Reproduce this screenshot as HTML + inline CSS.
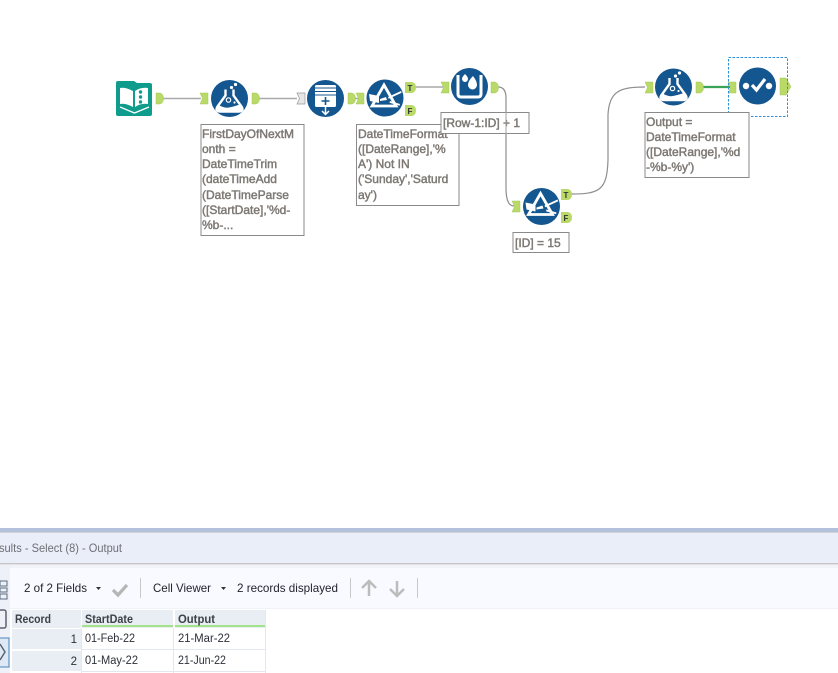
<!DOCTYPE html>
<html>
<head>
<meta charset="utf-8">
<style>
html,body{margin:0;padding:0;background:#fff}
svg{display:block}
text{font-family:"Liberation Sans",sans-serif}
.note{font-size:12px;fill:#7d7873;stroke:#7d7873;stroke-width:.45px}
.nb{fill:#fff;stroke:#8a8a8a;stroke-width:1}
.ui{font-size:12px;fill:#22252e}
.gh{font-size:11.5px;font-weight:bold;fill:#3c4048}
.gc{font-size:11.5px;fill:#2c3038}
</style>
</head>
<body>
<svg width="838" height="673" viewBox="0 0 838 673" xmlns="http://www.w3.org/2000/svg">
<defs>
<g id="out"><path d="M0 0h4q3.500 1 3.500 5.500t-3.500 5.500h-4z" fill="#b9d968" stroke="#a5c95a" stroke-width=".5"/></g>
<g id="in"><path d="M0 0h8v11h-8l2.500-5.500z" fill="#b9d968" stroke="#a5c95a" stroke-width=".5"/></g>
<g id="flask">
<circle r="18.500" fill="#14568f"/>
<path d="M-4-9v6l-8 11q-3 5 3 5h18q6 0 3-5l-8-11v-6" fill="none" stroke="#fff" stroke-width="2.400"/>
<path d="M-11.500 6q6 4 11 3t11-3l1.500 3q1 4-3 4h-18q-4 0-3-4z" fill="#fff"/>
<circle cx="-1" cy="1.500" r="2.200" fill="none" stroke="#fff" stroke-width="1.200"/>
<circle cx="2" cy="-11" r="1.600" fill="#fff"/><circle cx="6" cy="-14" r="1.600" fill="#fff"/>
<circle cx="5" cy="4" r="1.100" fill="#fff"/>
</g>
<g id="prism">
<circle r="18.500" fill="#14568f"/>
<path d="M-1-13l12 21h-24z" fill="none" stroke="#fff" stroke-width="2.800"/>
<path d="M-16-4l10 2v7l-9-2zM-5 1l6-2 1 3-7 1z" fill="#fff"/>
<path d="M3-1l13-6 .7 1.800-13 6zM5 3l10 3-.5 1.800-10-3z" fill="#fff"/>
</g>
</defs>

<!-- connectors -->
<g fill="none" stroke="#a9a9a9" stroke-width="1.500">
<path d="M163 98.500H201"/>
<path d="M259 98.500H297"/>
<path d="M352 98.500H360"/>
<path d="M415 87H443"/>
<path d="M498 87C503 87 506 90 506 98V188C506 199 508 206 514 206" stroke="#8e8e8e" stroke-width="1.200"/>
<path d="M571 194C600 194 607 190 608 160V115C609 91 620 87 645 87" stroke="#8e8e8e" stroke-width="1.200"/>
</g>
<path d="M702 87H730" stroke="#3aa35a" stroke-width="2.200" fill="none"/>

<!-- book -->
<path d="M116 83q0-2 2-2h16l3 2h13q2 0 2 2v29q0 2-2 2h-32q-2 0-2-2z" fill="#0f9c8c"/>
<path d="M120 88q6-1 13 3v16q-7-4-13-3zM135 91q6-4 13-3v16q-7-1-13 3z" fill="#fff"/>
<path d="M120 107l14.500 6 14.500-6" fill="none" stroke="#fff" stroke-width="1.300"/>
<circle cx="140.500" cy="92" r="1.700" fill="#0f9c8c"/><circle cx="140.500" cy="97" r="1.700" fill="#0f9c8c"/><circle cx="140.500" cy="102" r="1.700" fill="#0f9c8c"/>
<use href="#out" x="156" y="93"/>

<!-- formula 1 -->
<use href="#in" x="200" y="93"/>
<use href="#flask" x="229.500" y="98.500"/>
<use href="#out" x="252" y="93"/>
<!-- append -->
<path d="M297 93h8v11h-8l2.500-5.500z" fill="#e6e6e6" stroke="#999" stroke-width=".7"/>
<circle cx="325.500" cy="98.500" r="18.500" fill="#14568f"/>
<rect x="315" y="85" width="21" height="22" rx="1.500" fill="#fff"/>
<path d="M315 88h21M315 91.500h21M315 95h21" stroke="#14568f" stroke-width="1"/>
<path d="M325.500 97v8M321.500 101h8" stroke="#14568f" stroke-width="1.600" fill="none"/>
<path d="M325.500 107v7M322 111l3.500 3.500 3.500-3.500" stroke="#fff" stroke-width="1.500" fill="none"/>
<use href="#out" x="348" y="93"/>

<!-- filter 1 -->
<use href="#in" x="356" y="93"/>
<use href="#prism" x="385" y="98"/>
<path d="M405 82h7q4 1 4 5.500t-4 5.500h-7z" fill="#b9d968"/>
<text x="407.500" y="91" font-size="8" font-weight="bold" fill="#333">T</text>
<path d="M405 105h7q4 1 4 5.500t-4 5.500h-7z" fill="#b9d968"/>
<text x="407.500" y="114" font-size="8" font-weight="bold" fill="#333">F</text>

<!-- multi-row -->
<use href="#in" x="441" y="82"/>
<circle cx="469.500" cy="86.500" r="18.500" fill="#14568f"/>
<path d="M458 75v19q0 3 3 3h17q3 0 3-3v-19" fill="none" stroke="#fff" stroke-width="3"/>
<path d="M465 74q3 3 3 5a3 3 0 0 1-6 0q0-2 3-5zM473 76q4 5 4 9a4.500 4.500 0 0 1-9 0q0-4 5-9z" fill="#fff"/>
<use href="#out" x="491" y="82"/>

<!-- filter 2 -->
<use href="#in" x="512" y="201"/>
<use href="#prism" x="541.500" y="206.500"/>
<path d="M561 189h7q4 1 4 5.500t-4 5.500h-7z" fill="#b9d968"/>
<text x="563.500" y="198" font-size="8" font-weight="bold" fill="#333">T</text>
<path d="M561 212h7q4 1 4 5.500t-4 5.500h-7z" fill="#b9d968"/>
<text x="563.500" y="221" font-size="8" font-weight="bold" fill="#333">F</text>

<!-- formula 2 -->
<use href="#in" x="645" y="82"/>
<use href="#flask" x="673.500" y="87"/>
<use href="#out" x="696" y="82"/>

<!-- select -->
<use href="#in" x="728" y="82"/>
<circle cx="757.500" cy="86" r="18.500" fill="#14568f"/>
<circle cx="746" cy="86" r="3.200" fill="#fff"/><circle cx="769" cy="86" r="3.200" fill="#fff"/>
<path d="M752 85l4.500 5 8.500-11" fill="none" stroke="#fff" stroke-width="3.200"/>
<path d="M780 78h6l5 8.500-5 8.500h-6z" fill="#b9d968" stroke="#a5c95a" stroke-width=".5"/>
<rect x="728.500" y="57.500" width="59" height="59" fill="none" stroke="#2e8fd6" stroke-width="1" stroke-dasharray="2.500 1.500"/>

<!-- notes -->
<rect class="nb" x="201" y="124.500" width="103" height="111"/>
<text class="note"><tspan x="202" y="138">FirstDayOfNextM</tspan><tspan x="202" y="153">onth =</tspan><tspan x="202" y="168">DateTimeTrim</tspan><tspan x="202" y="183">(dateTimeAdd</tspan><tspan x="202" y="199">(DateTimeParse</tspan><tspan x="202" y="214">([StartDate],'%d-</tspan><tspan x="202" y="229">%b-...</tspan></text>

<rect class="nb" x="356.500" y="124.500" width="102.500" height="81"/>
<text class="note"><tspan x="358" y="138">DateTimeFormat</tspan><tspan x="358" y="153">([DateRange],'%</tspan><tspan x="358" y="168">A') Not IN</tspan><tspan x="358" y="183">('Sunday','Saturd</tspan><tspan x="358" y="199">ay')</tspan></text>

<rect class="nb" x="441" y="112.500" width="88" height="21"/>
<text class="note"><tspan x="443" y="127">[Row-1:ID] + 1</tspan></text>
<path d="M506 112V134" stroke="#a0a0a0" stroke-width="1"/>

<rect class="nb" x="513" y="232.500" width="56" height="20"/>
<text class="note"><tspan x="515" y="247">[ID] = 15</tspan></text>

<rect class="nb" x="645" y="112.500" width="104" height="65"/>
<text class="note"><tspan x="646" y="126">Output =</tspan><tspan x="646" y="141">DateTimeFormat</tspan><tspan x="646" y="156">([DateRange],'%d</tspan><tspan x="646" y="171">-%b-%y')</tspan></text>

<!-- results panel -->
<rect x="0" y="528" width="838" height="4" fill="#b3c1dc"/>
<rect x="0" y="532" width="838" height="1" fill="#d0d2d6"/>
<rect x="0" y="533" width="838" height="31" fill="#eaeef8"/>
<rect x="0" y="563" width="838" height="1.500" fill="#c6c6c8"/>
<rect x="0" y="565" width="838" height="3" fill="#f1f3f8"/>
<rect x="10" y="568" width="828" height="40" fill="#f8faff"/>
<rect x="10" y="608" width="828" height="1" fill="#eff2f6"/>
<rect x="0" y="565" width="10" height="108" fill="#eef1f7"/>
<text x="-1" y="552" font-size="12" fill="#6d6f75" textLength="123" lengthAdjust="spacingAndGlyphs">sults - Select (8) - Output</text>

<!-- sidebar icons -->
<path d="M0 581h7v5h-7zM0 588h7v4h-7zM0 594h7v5h-7z" fill="none" stroke="#5a6a80" stroke-width="1"/>
<rect x="-3" y="610" width="9" height="18" rx="2" fill="none" stroke="#5b6470" stroke-width="1.500"/>
<rect x="-2" y="638" width="11" height="29" fill="#dfe9f6" stroke="#4a84c0" stroke-width="1"/>
<path d="M0 644l5 8-5 8" fill="none" stroke="#5b6470" stroke-width="1.500"/>

<!-- toolbar -->
<text class="ui" x="24" y="592" textLength="63" lengthAdjust="spacingAndGlyphs">2 of 2 Fields</text>
<path d="M96 587h5l-2.500 3z" fill="#333"/>
<path d="M113 590l5 5 9-10" fill="none" stroke="#b5b5b5" stroke-width="3.200"/>
<rect x="140" y="578" width="1" height="20" fill="#c8c8c8"/>
<text class="ui" x="153" y="592" textLength="58" lengthAdjust="spacingAndGlyphs">Cell Viewer</text>
<path d="M221 587h5l-2.500 3z" fill="#333"/>
<text class="ui" x="237" y="592" textLength="101" lengthAdjust="spacingAndGlyphs">2 records displayed</text>
<rect x="350" y="578" width="1" height="20" fill="#c8c8c8"/>
<path d="M369 596v-14M362 588l7-7 7 7" fill="none" stroke="#bcbcbc" stroke-width="2.500"/>
<path d="M397 581v14M390 589l7 7 7-7" fill="none" stroke="#bcbcbc" stroke-width="2.500"/>
<rect x="417" y="578" width="1" height="20" fill="#c8c8c8"/>

<!-- grid -->
<rect x="11" y="610" width="255" height="63" fill="#fff"/>
<rect x="12" y="610" width="69" height="18" fill="#e9eef5"/>
<rect x="82" y="610" width="91" height="18" fill="#e9eef5"/>
<rect x="175" y="610" width="91" height="18" fill="#e9eef5"/>
<rect x="82" y="625" width="91" height="2" fill="#a3e48a"/>
<rect x="175" y="625" width="91" height="2" fill="#a3e48a"/>
<rect x="12" y="629" width="69" height="20" fill="#e9eef5"/>
<rect x="12" y="651" width="69" height="20" fill="#e9eef5"/>
<path d="M81.500 628V673M173.500 628V673M265.500 610V673M82 649.500H266M82 671.500H266" stroke="#e3e8f0" stroke-width="1" fill="none"/>
<text class="gh" x="15" y="623" textLength="36" lengthAdjust="spacingAndGlyphs">Record</text>
<text class="gh" x="85" y="623" textLength="48" lengthAdjust="spacingAndGlyphs">StartDate</text>
<text class="gh" x="178" y="623" textLength="37" lengthAdjust="spacingAndGlyphs">Output</text>
<text class="gc" x="77" y="643" text-anchor="end">1</text>
<text class="gc" x="85" y="642" textLength="50" lengthAdjust="spacingAndGlyphs">01-Feb-22</text>
<text class="gc" x="178" y="642" textLength="52" lengthAdjust="spacingAndGlyphs">21-Mar-22</text>
<text class="gc" x="77" y="665" text-anchor="end">2</text>
<text class="gc" x="85" y="664" textLength="53" lengthAdjust="spacingAndGlyphs">01-May-22</text>
<text class="gc" x="178" y="664" textLength="48" lengthAdjust="spacingAndGlyphs">21-Jun-22</text>
</svg>
</body>
</html>
